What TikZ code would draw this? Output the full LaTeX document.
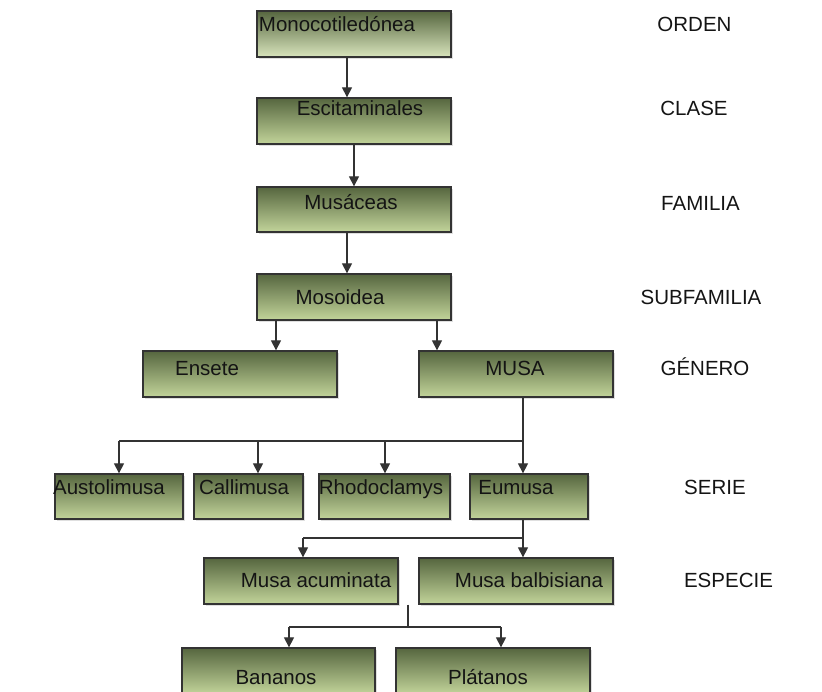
\documentclass[tikz,border=0pt]{standalone}
\usepackage{fontspec}
\setmainfont{Liberation Sans}
\usepackage{xcolor}
\definecolor{leafdark}{HTML}{56663F}
\definecolor{leaflight}{HTML}{C2D49A}
\definecolor{leafpale}{HTML}{D8E4BC}
\definecolor{edge}{HTML}{333333}
\usetikzlibrary{positioning,arrows.meta,calc,shadows}

\begin{document}
\begin{tikzpicture}[x=1pt, y=-1pt,
                   taxon/.style={draw=edge, line width=1.3pt, top color=leafdark,
                                 bottom color=leaflight, minimum height=46pt, inner sep=0pt,
                                 drop shadow={shadow xshift=1.5pt, shadow yshift=-1.5pt, opacity=0.25}},
                   txt/.style={font=\fontsize{20.5}{24}\selectfont, text=black!92, inner sep=0pt, anchor=base},
                   wire/.style={draw=edge, line width=1.2pt},
                   arr/.style={wire, -{Triangle[length=10pt, width=10pt]}}]
    \useasboundingbox (0,0) rectangle (822,691);
    % boxes
    \node[taxon, minimum width=194pt, bottom color=leafpale] (mono) at (354,34) {};
    \node[taxon, minimum width=194pt] (escit)  at (354,121) {};
    \node[taxon, minimum width=194pt, minimum height=45pt] (musac) at (354,209.5) {};
    \node[taxon, minimum width=194pt] (mosoi)  at (354,297) {};
    \node[taxon, minimum width=194pt] (ensete) at (240,374) {};
    \node[taxon, minimum width=194pt] (musa)   at (516,374) {};
    \node[taxon, minimum width=128pt, minimum height=45pt] (austo)  at (119,496.5) {};
    \node[taxon, minimum width=109pt, minimum height=45pt] (calli)  at (248.5,496.5) {};
    \node[taxon, minimum width=131pt, minimum height=45pt] (rhodo)  at (384.5,496.5) {};
    \node[taxon, minimum width=118pt, minimum height=45pt] (eumusa) at (529,496.5) {};
    \node[taxon, minimum width=194pt] (acum)   at (301,581) {};
    \node[taxon, minimum width=194pt] (balb)   at (516,581) {};
    \node[taxon, minimum width=193pt] (banan)  at (278.5,671) {};
    \node[taxon, minimum width=194pt] (plat)   at (493,671) {};
    % box texts
    \node[txt] (tmono)   at (337,31.5)  {Monocotiledónea};
    \node[txt] (tescit)  at (360,115.5) {Escitaminales};
    \node[txt] (tmusac)  at (351,209.5) {Musáceas};
    \node[txt] (tmosoi)  at (340,304.5) {Mosoidea};
    \node[txt] (tensete) at (207,375.5) {Ensete};
    \node[txt] (tmusa)   at (515,375.5) {MUSA};
    \node[txt] (tausto)  at (109,494.5) {Austolimusa};
    \node[txt] (tcalli)  at (244,494.5) {Callimusa};
    \node[txt] (trhodo)  at (381,494.5) {Rhodoclamys};
    \node[txt] (teumusa) at (516,494.5) {Eumusa};
    \node[txt] (tacum)   at (316,587.5) {Musa acuminata};
    \node[txt] (tbalb)   at (529,587.5) {Musa balbisiana};
    \node[txt] (tbanan)  at (276,684.5) {Bananos};
    \node[txt] (tplat)   at (488,684.5) {Plátanos};
    % ranks
    \node[txt] (orden)   at (694.5,31.5)  {ORDEN};
    \node[txt] (clase)   at (694,115.5)   {CLASE};
    \node[txt] (familia) at (700.5,210)   {FAMILIA};
    \node[txt] (subfam)  at (701,304.5)   {SUBFAMILIA};
    \node[txt] (genero)  at (705,375.5)   {GÉNERO};
    \node[txt] (serie)   at (715,494.5)   {SERIE};
    \node[txt] (especie) at (728.5,587.5) {ESPECIE};
    % connectors
    \coordinate (sj) at (523,441);
    \coordinate (ej) at (523,538);
    \coordinate (bj) at (408,627);
    \draw[arr] ([xshift=-7pt]mono.south) -- ([xshift=-7pt]escit.north);
    \draw[arr] (escit.south) -- (musac.north);
    \draw[arr] ([xshift=-7pt]musac.south) -- ([xshift=-7pt]mosoi.north);
    \draw[arr] (mosoi.south -| 276,0) -- (ensete.north -| 276,0);
    \draw[arr] (mosoi.south -| 437,0) -- (musa.north -| 437,0);
    \draw[wire] (musa.south -| sj) -- (sj) -- (sj -| 119,0);
    \foreach \x/\n in {119/austo, 258/calli, 385/rhodo, 523/eumusa}
        \draw[arr] (sj -| \x,0) -- (\n.north -| \x,0);
    \draw[wire] (eumusa.south -| ej) -- (ej) -- (ej -| 303,0);
    \foreach \x/\n in {303/acum, 523/balb}
        \draw[arr] (ej -| \x,0) -- (\n.north -| \x,0);
    \draw[wire] (acum.south -| bj) -- (bj);
    \draw[wire] (bj -| 289,0) -- (bj -| 501,0);
    \foreach \x/\n in {289/banan, 501/plat}
        \draw[arr] (bj -| \x,0) -- (\n.north -| \x,0);
\end{tikzpicture}
\end{document}
